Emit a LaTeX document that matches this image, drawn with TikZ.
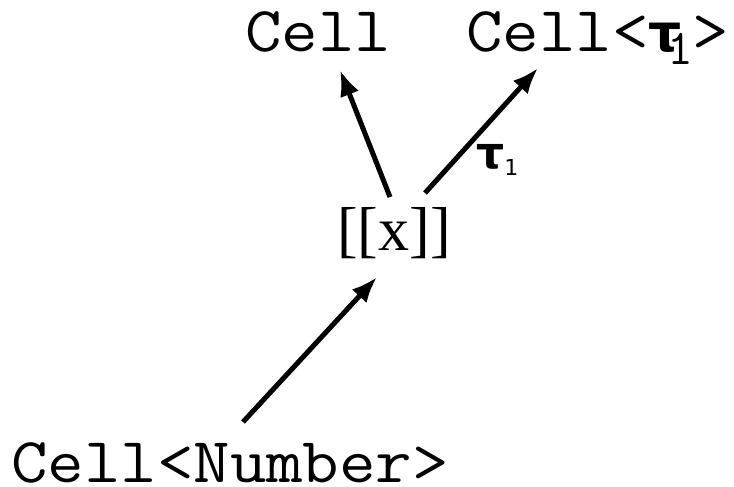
\documentclass[tikz,border=0pt]{standalone}
\usepackage{fontspec}
\setmainfont{Liberation Serif}
\newfontfamily\taufont{DejaVu Sans}
\usetikzlibrary{arrows.meta}
\newcommand{\mono}[1]{\scalebox{1.107}[1]{\ttfamily\fontsize{64}{70}\selectfont #1}}
\newcommand{\tauone}{\makebox[21pt][l]{\taufont\bfseries\fontsize{52}{60}\selectfont τ}%
  \raisebox{-13pt}{\makebox[22pt]{\ttfamily\fontsize{50}{60}\selectfont 1}}\kern1pt}

\begin{document}
\begin{tikzpicture}[x=1pt, y=-1pt, >={Latex[length=26pt, width=20pt]},
  type/.style={inner sep=0pt},
  term/.style={inner sep=0pt, font=\fontsize{62}{70}\selectfont},
  lab/.style={inner sep=0pt, font=\taufont\bfseries\fontsize{44}{50}\selectfont},
  arr/.style={->, line width=5pt}]
\useasboundingbox (0,0) rectangle (734,487);
\node[type, anchor=base] (cell) at (318,52) {\mono{Cell}};
\node[type, anchor=base west] (celltau) at (466,52) {\mono{Cell<}\tauone\mono{>}};
\node[term, anchor=base] (x) at (394,250) {[[x]]};
\node[type, anchor=base] (num) at (230,482) {\mono{Cell<Number>}};
\node[lab, anchor=base west] (taulab) at (476,168)
   {τ\raisebox{-7pt}{\mdseries\fontsize{22}{24}\selectfont 1}};
\draw[arr] ([xshift=13pt, yshift=60pt]num.base) -- ([xshift=-17pt, yshift=-27pt]x.base);
\draw[arr] ([xshift=-4pt, yshift=53pt]x.base) -- ([xshift=22pt, yshift=-18pt]cell.base);
\draw[arr] ([xshift=31pt, yshift=57pt]x.base) -- ([xshift=72pt, yshift=-16pt]celltau.base west);
\end{tikzpicture}
\end{document}
